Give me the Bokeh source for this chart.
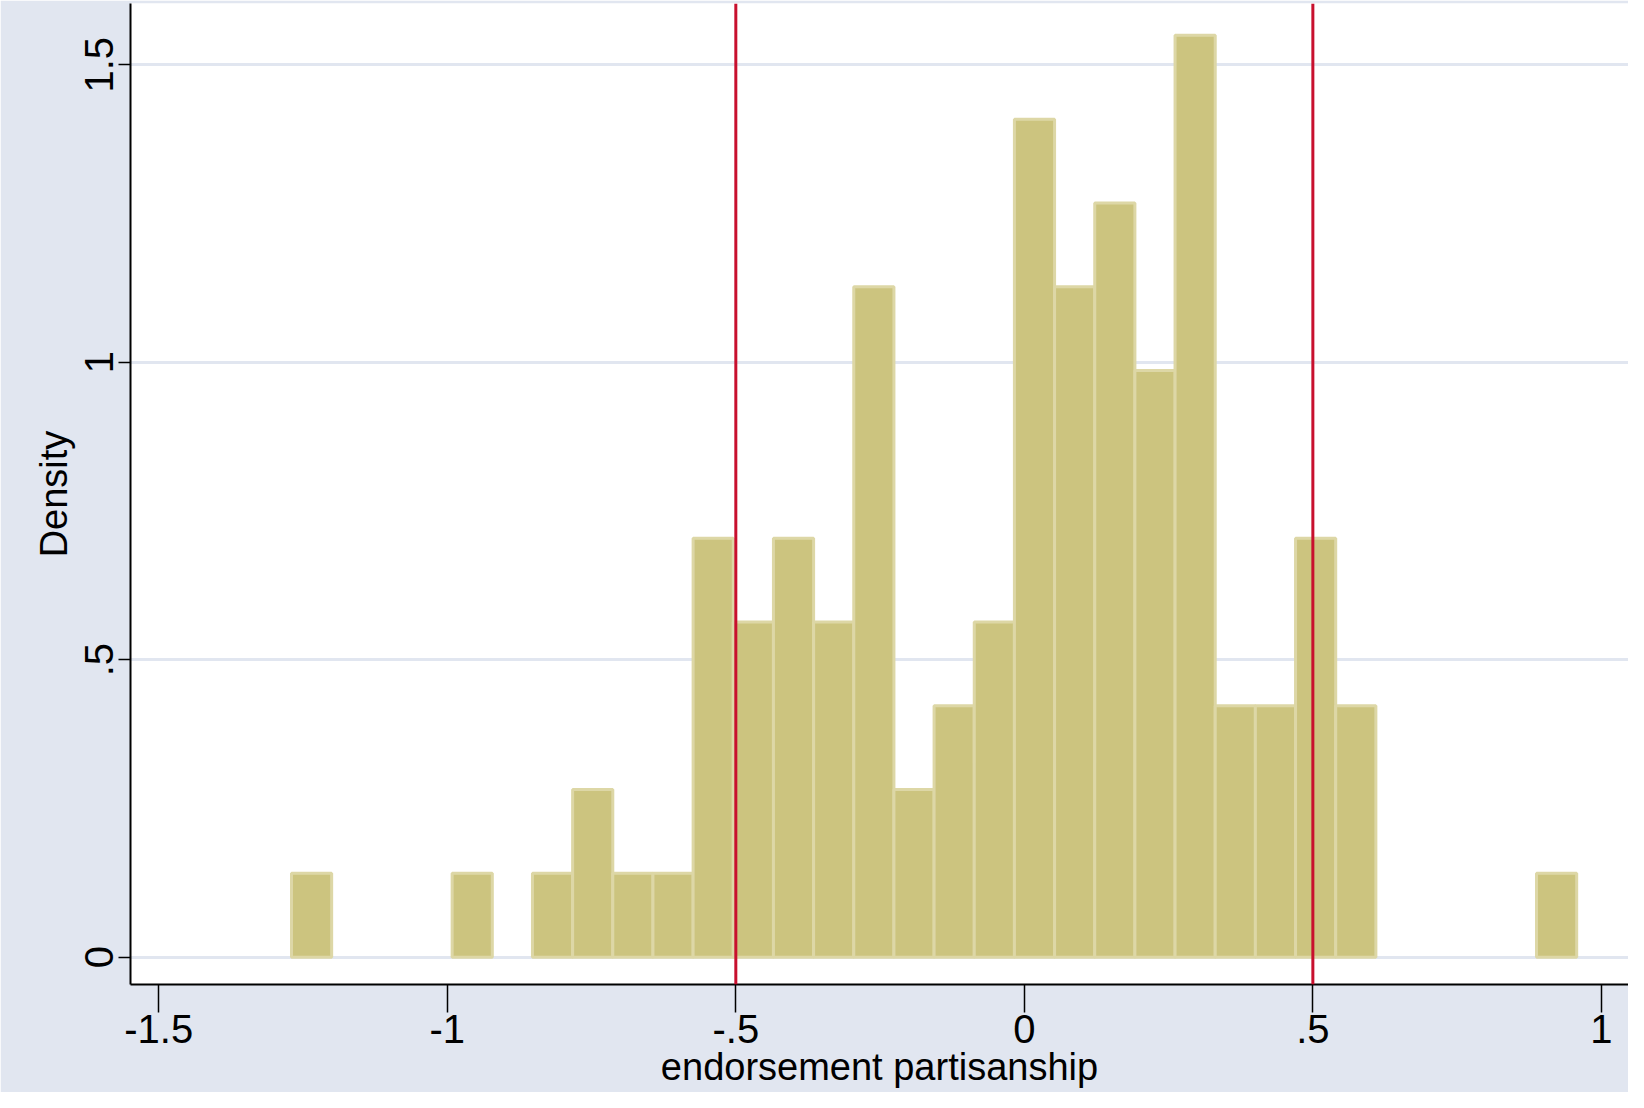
import numpy as np
from bokeh.plotting import figure
from bokeh.models import Span, FixedTicker
from bokeh.embed import file_html
from bokeh.resources import INLINE

# histogram: left edge of first bin, bin width, counts per bin
bin_start = -1.270
bin_width = 0.0696
counts = [1, 0, 0, 0, 1, 0,
          1, 2, 1, 1, 5, 4, 5, 4, 8, 2, 3, 4, 10, 8, 9, 7, 11, 3, 3, 5, 3,
          0, 0, 0, 0, 1]
ref_lines = [-0.5, 0.5]
x_ticks = [-1.5, -1, -0.5, 0, 0.5, 1]
x_labels = ["-1.5", "-1", "-.5", "0", ".5", "1"]
y_ticks = [0, 0.5, 1, 1.5]
y_labels = ["0", ".5", "1", "1.5"]

counts = np.array(counts)
n = counts.sum()
left = bin_start + bin_width * np.arange(len(counts))
dens = counts / (n * bin_width)
keep = counts > 0

bg = "#E1E6F0"
p = figure(width=1628, height=1092, output_backend="svg", toolbar_location=None,
           x_range=(-1.549, 1.047), y_range=(-0.046, 1.603),
           min_border_left=130, min_border_right=0, min_border_top=3, min_border_bottom=108)
p.background_fill_color = "white"
p.border_fill_color = bg
p.outline_line_color = None

p.quad(left=left[keep], right=left[keep] + bin_width, bottom=0, top=dens[keep],
       fill_color="#CCC47F", line_color="#DDD7A6", line_width=3)

for v in ref_lines:
    p.add_layout(Span(location=v, dimension="height", line_color="#C8102E", line_width=3))

p.xgrid.grid_line_color = None
p.ygrid.grid_line_color = bg
p.ygrid.grid_line_width = 3
p.ygrid.level = "underlay"

font = "Liberation Sans"
p.xaxis.ticker = FixedTicker(ticks=x_ticks)
p.xaxis.major_label_overrides = dict(zip(x_ticks, x_labels))
p.yaxis.ticker = FixedTicker(ticks=y_ticks)
p.yaxis.major_label_overrides = dict(zip(y_ticks, y_labels))
p.yaxis.major_label_orientation = "vertical"
p.xaxis.axis_label = "endorsement partisanship"
p.yaxis.axis_label = "Density"
for ax in (p.xaxis, p.yaxis):
    ax.axis_line_color = "black"
    ax.axis_line_width = 2
    ax.major_tick_line_color = "black"
    ax.major_tick_line_width = 1.5
    ax.minor_tick_line_color = None
    ax.major_tick_in = 0
    ax.major_label_text_font = font
    ax.major_label_text_font_size = "40px"
    ax.major_label_text_color = "black"
    ax.axis_label_text_font = font
    ax.axis_label_text_font_size = "38px"
    ax.axis_label_text_font_style = "normal"
    ax.axis_label_text_color = "black"
p.xaxis.major_tick_out = 28
p.yaxis.major_tick_out = 12
p.xaxis.major_label_standoff = 2
p.xaxis.axis_label_standoff = 0
p.yaxis.axis_label_standoff = 8

open("out.html", "w").write(file_html(p, INLINE))
